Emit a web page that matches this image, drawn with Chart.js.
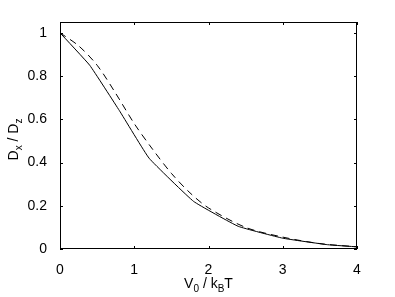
<!DOCTYPE html>
<html>
<head>
<meta charset="utf-8">
<script src="https://cdn.jsdelivr.net/npm/chart.js@4"></script>
<style>
  html, body { margin: 0; padding: 0; background: #fff; }
  #wrap { width: 395px; height: 297px; }
</style>
</head>
<body>
<div id="wrap"><canvas id="myChart" width="395" height="297"></canvas></div>
<script>
// values
const solidX = [0, 0.4, 0.8, 1.2, 1.8, 2.4, 3.0, 3.6, 4.0];
const solidY = [1, 0.85, 0.64, 0.42, 0.22, 0.105, 0.05, 0.02, 0.01];
const dashX = [0, 0.25, 0.5, 0.75, 1, 1.25, 1.5, 1.75, 2, 2.5, 3, 3.5, 4];
const dashY = [1, 0.94, 0.85, 0.72, 0.58, 0.46, 0.35, 0.26, 0.19, 0.10, 0.055, 0.025, 0.01];
const xTicks = [0, 1, 2, 3, 4];
const yTicks = [0, 0.2, 0.4, 0.6, 0.8, 1];

const FONT = '"Liberation Sans", Arial, sans-serif';

function pts(xs, ys) {
    return xs.map((x, i) => ({ x: x, y: ys[i] }));
}

// box, inward ticks and the axis titles with subscripts
const framePlugin = {
    id: 'frame',
    afterDraw(chart) {
        const ctx = chart.ctx;
        const a = chart.chartArea;
        const xs = chart.scales.x, ys = chart.scales.y;
        ctx.save();
        ctx.strokeStyle = '#000';
        ctx.lineWidth = 1;
        ctx.strokeRect(a.left + 0.5, a.top + 0.5, a.right - a.left - 1, a.bottom - a.top - 1);
        ctx.beginPath();
        xTicks.forEach(v => {
            const px = Math.round(xs.getPixelForValue(v)) + 0.5;
            ctx.moveTo(px, a.bottom); ctx.lineTo(px, a.bottom - 3);
            ctx.moveTo(px, a.top); ctx.lineTo(px, a.top + 3);
        });
        yTicks.forEach(v => {
            const py = Math.round(ys.getPixelForValue(v)) + 0.5;
            ctx.moveTo(a.left, py); ctx.lineTo(a.left + 3, py);
            ctx.moveTo(a.right, py); ctx.lineTo(a.right - 3, py);
        });
        ctx.stroke();

        ctx.fillStyle = '#000';
        ctx.textBaseline = 'alphabetic';
        // parts: [text, isSub]
        function drawParts(parts, cx, cy) {
            const big = '14px ' + FONT, small = '10px ' + FONT;
            let w = 0;
            parts.forEach(p => { ctx.font = p[1] ? small : big; w += ctx.measureText(p[0]).width; });
            let x = cx - w / 2;
            parts.forEach(p => {
                ctx.font = p[1] ? small : big;
                ctx.fillText(p[0], x, p[1] ? cy + 4 : cy);
                x += ctx.measureText(p[0]).width;
            });
        }
        drawParts([['V', 0], ['0', 1], [' / k', 0], ['B', 1], ['T', 0]], (a.left + a.right) / 2, 288);
        ctx.translate(18, (a.top + a.bottom) / 2 + 4);
        ctx.rotate(-Math.PI / 2);
        drawParts([['D', 0], ['x', 1], [' / D', 0], ['z', 1]], 0, 0);
        ctx.restore();
    }
};

const ctx = document.getElementById('myChart').getContext('2d');
const myChart = new Chart(ctx, {
    type: 'scatter',
    data: {
        datasets: [{
            data: pts(solidX, solidY),
            showLine: true,
            borderColor: '#000',
            borderWidth: 1,
            pointRadius: 0,
            tension: 0.1
        }, {
            data: pts(dashX, dashY),
            showLine: true,
            borderColor: '#000',
            borderWidth: 1,
            borderDash: [7, 5],
            pointRadius: 0,
            tension: 0.3
        }]
    },
    options: {
        responsive: false,
        animation: false,
        layout: { padding: { left: 0, top: 22, right: 38, bottom: 0 } },
        plugins: { legend: { display: false }, tooltip: { enabled: false } },
        scales: {
            x: {
                type: 'linear', min: 0, max: 4,
                afterBuildTicks: s => { s.ticks = xTicks.map(v => ({ value: v })); },
                afterFit: s => { s.height = 48; },
                grid: { display: false },
                border: { display: false },
                ticks: { color: '#000', font: { family: FONT, size: 14 }, padding: 5, maxRotation: 0,
                         callback: v => String(v) }
            },
            y: {
                type: 'linear', min: 0, max: 1.05,
                afterBuildTicks: s => { s.ticks = yTicks.map(v => ({ value: v })); },
                afterFit: s => { s.width = 60; },
                grid: { display: false },
                border: { display: false },
                ticks: { color: '#000', font: { family: FONT, size: 14 }, padding: 5,
                         callback: v => String(v) }
            }
        }
    },
    plugins: [framePlugin]
});
</script>
</body>
</html>
